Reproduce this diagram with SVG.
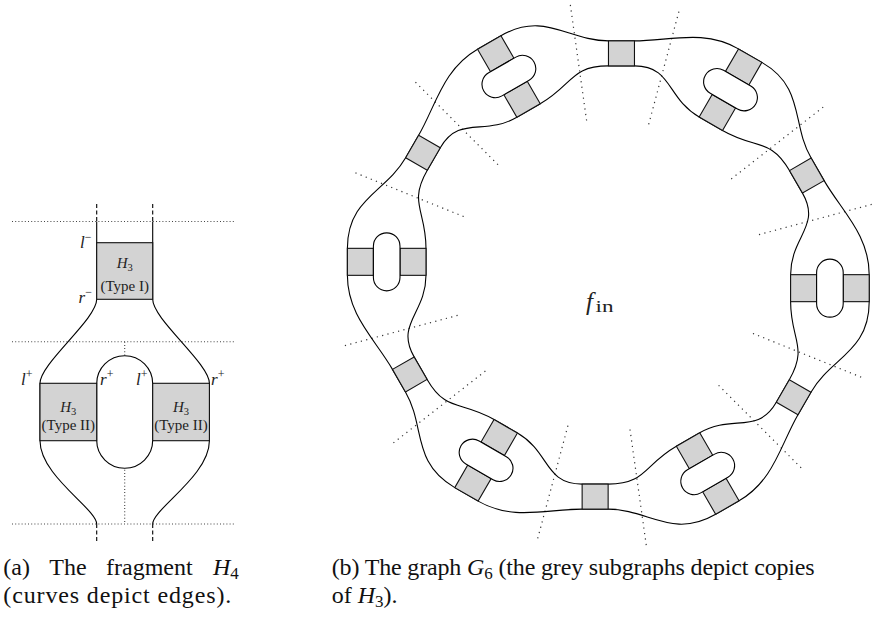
<svg xmlns="http://www.w3.org/2000/svg" width="886" height="617" viewBox="0 0 886 617">
<style>
.edge{fill:none;stroke:#000;stroke-width:1.1}
.box{fill:#d3d3d3;stroke:#111;stroke-width:1.1}
.oval{fill:#fff;stroke:#000;stroke-width:1.1}
.dot{fill:none;stroke:#333;stroke-width:1.2;stroke-dasharray:1.2 4.3}
.dotA{fill:none;stroke:#444;stroke-width:1.1;stroke-dasharray:1 2.2}
.dash{fill:none;stroke:#000;stroke-width:1.1;stroke-dasharray:4 2.5}
text{font-family:"Liberation Serif","DejaVu Serif",serif;fill:#222}
.it{font-style:italic}
.lbl{font-size:15px}
.cap{font-size:24px;fill:#111}
</style>
<rect width="886" height="617" fill="#fff"/>

<!-- ===== Figure (a): fragment H4 ===== -->
<g id="a-separators">
<line class="dotA" x1="12" y1="221.5" x2="234" y2="221.5"/>
<line class="dotA" x1="12" y1="341.7" x2="234" y2="341.7"/>
<line class="dotA" x1="12" y1="524" x2="234" y2="524"/>
<line class="dotA" x1="124.7" y1="341.7" x2="124.7" y2="524"/>
</g>
<g id="a-connectors">
<line class="dash" x1="96.7" y1="204" x2="96.7" y2="221.5"/>
<line class="dash" x1="152.7" y1="204" x2="152.7" y2="221.5"/>
<line class="dash" x1="96.7" y1="524" x2="96.7" y2="543"/>
<line class="dash" x1="152.7" y1="524" x2="152.7" y2="543"/>
<path class="edge" d="M96.7 221.5 V299.3 C96.7 319.3 40 363.3 40 383.3 V440.7 C40 475.7 96.7 509 96.7 524"/>
<path class="edge" d="M152.7 221.5 V299.3 C152.7 319.3 209.4 363.3 209.4 383.3 V440.7 C209.4 475.7 152.7 509 152.7 524"/>
</g>
<g id="a-typeI">
<rect class="box" x="96.7" y="242.7" width="56" height="56.6"/>
<text class="lbl" x="124.7" y="268" text-anchor="middle"><tspan class="it">H</tspan><tspan font-size="10.5" dy="3">3</tspan></text>
<text class="lbl" x="124.7" y="291" text-anchor="middle">(Type I)</text>
</g>
<g id="a-oval">
<rect class="oval" x="96.7" y="355.7" width="56" height="112.6" rx="28"/>
</g>
<g id="a-typeII-left">
<rect class="box" x="40" y="383.3" width="56.7" height="57.4"/>
<text class="lbl" x="68.3" y="412" text-anchor="middle"><tspan class="it">H</tspan><tspan font-size="10.5" dy="3">3</tspan></text>
<text class="lbl" x="68.3" y="429.5" text-anchor="middle">(Type II)</text>
</g>
<g id="a-typeII-right">
<rect class="box" x="152.7" y="383.3" width="56.7" height="57.4"/>
<text class="lbl" x="181" y="412" text-anchor="middle"><tspan class="it">H</tspan><tspan font-size="10.5" dy="3">3</tspan></text>
<text class="lbl" x="181" y="429.5" text-anchor="middle">(Type II)</text>
</g>
<g id="a-ports" font-size="17">
<text x="80" y="248"><tspan class="it">l</tspan><tspan font-size="12" dy="-7">−</tspan></text>
<text x="78.5" y="303"><tspan class="it">r</tspan><tspan font-size="12" dy="-7">−</tspan></text>
<text x="21" y="385"><tspan class="it">l</tspan><tspan font-size="12" dy="-7">+</tspan></text>
<text x="100" y="385"><tspan class="it">r</tspan><tspan font-size="12" dy="-7">+</tspan></text>
<text x="136" y="385"><tspan class="it">l</tspan><tspan font-size="12" dy="-7">+</tspan></text>
<text x="211" y="385"><tspan class="it">r</tspan><tspan font-size="12" dy="-7">+</tspan></text>
</g>

<!-- ===== Figure (b): graph G6 ===== -->
<g id="b-separators">
<line class="dot" x1="764.3" y1="275" x2="882.3" y2="275" transform="rotate(22 608.3 275)"/>
<line class="dot" x1="764.3" y1="275" x2="882.3" y2="275" transform="rotate(45 608.3 275)"/>
<line class="dot" x1="764.3" y1="275" x2="882.3" y2="275" transform="rotate(82 608.3 275)"/>
<line class="dot" x1="764.3" y1="275" x2="882.3" y2="275" transform="rotate(105 608.3 275)"/>
<line class="dot" x1="764.3" y1="275" x2="882.3" y2="275" transform="rotate(142 608.3 275)"/>
<line class="dot" x1="764.3" y1="275" x2="882.3" y2="275" transform="rotate(165 608.3 275)"/>
<line class="dot" x1="764.3" y1="275" x2="882.3" y2="275" transform="rotate(202 608.3 275)"/>
<line class="dot" x1="764.3" y1="275" x2="882.3" y2="275" transform="rotate(225 608.3 275)"/>
<line class="dot" x1="764.3" y1="275" x2="882.3" y2="275" transform="rotate(262 608.3 275)"/>
<line class="dot" x1="764.3" y1="275" x2="882.3" y2="275" transform="rotate(285 608.3 275)"/>
<line class="dot" x1="764.3" y1="275" x2="882.3" y2="275" transform="rotate(322 608.3 275)"/>
<line class="dot" x1="764.3" y1="275" x2="882.3" y2="275" transform="rotate(345 608.3 275)"/>
</g>

<g id="b-connectors">
<g id="outer-ring">
<path class="edge" transform="rotate(0 608.3 275)" d="M869.209 274.666 L869.209 301.666 C869.209 351.666 830.961 357.558 810.961 392.199 L797.961 414.715 C780.461 445.026 773.685 480.787 739.044 500.787"/>
<path class="edge" transform="rotate(60 608.3 275)" d="M869.209 274.666 L869.209 301.666 C869.209 351.666 830.961 357.558 810.961 392.199 L797.961 414.715 C780.461 445.026 773.685 480.787 739.044 500.787"/>
<path class="edge" transform="rotate(120 608.3 275)" d="M869.209 274.666 L869.209 301.666 C869.209 351.666 830.961 357.558 810.961 392.199 L797.961 414.715 C780.461 445.026 773.685 480.787 739.044 500.787"/>
<path class="edge" transform="rotate(180 608.3 275)" d="M869.209 274.666 L869.209 301.666 C869.209 351.666 830.961 357.558 810.961 392.199 L797.961 414.715 C780.461 445.026 773.685 480.787 739.044 500.787"/>
<path class="edge" transform="rotate(240 608.3 275)" d="M869.209 274.666 L869.209 301.666 C869.209 351.666 830.961 357.558 810.961 392.199 L797.961 414.715 C780.461 445.026 773.685 480.787 739.044 500.787"/>
<path class="edge" transform="rotate(300 608.3 275)" d="M869.209 274.666 L869.209 301.666 C869.209 351.666 830.961 357.558 810.961 392.199 L797.961 414.715 C780.461 445.026 773.685 480.787 739.044 500.787"/>
</g>
<g id="inner-ring">
<path class="edge" transform="rotate(0 608.3 275)" d="M790.609 274.666 L790.609 301.666 C790.609 339.666 808.311 346.790 789.311 379.699 L776.311 402.215 C757.311 435.124 732.653 413.717 699.744 432.717"/>
<path class="edge" transform="rotate(60 608.3 275)" d="M790.609 274.666 L790.609 301.666 C790.609 339.666 808.311 346.790 789.311 379.699 L776.311 402.215 C757.311 435.124 732.653 413.717 699.744 432.717"/>
<path class="edge" transform="rotate(120 608.3 275)" d="M790.609 274.666 L790.609 301.666 C790.609 339.666 808.311 346.790 789.311 379.699 L776.311 402.215 C757.311 435.124 732.653 413.717 699.744 432.717"/>
<path class="edge" transform="rotate(180 608.3 275)" d="M790.609 274.666 L790.609 301.666 C790.609 339.666 808.311 346.790 789.311 379.699 L776.311 402.215 C757.311 435.124 732.653 413.717 699.744 432.717"/>
<path class="edge" transform="rotate(240 608.3 275)" d="M790.609 274.666 L790.609 301.666 C790.609 339.666 808.311 346.790 789.311 379.699 L776.311 402.215 C757.311 435.124 732.653 413.717 699.744 432.717"/>
<path class="edge" transform="rotate(300 608.3 275)" d="M790.609 274.666 L790.609 301.666 C790.609 339.666 808.311 346.790 789.311 379.699 L776.311 402.215 C757.311 435.124 732.653 413.717 699.744 432.717"/>
</g>
</g>

<g id="b-nodes">
<g id="double-0" transform="rotate(0 608.3 275) translate(829.909 288.166)"><rect class="box" x="13.3" y="-13.5" width="26" height="27"/><rect class="box" x="-39.3" y="-13.5" width="26" height="27"/><rect class="oval" x="-13.3" y="-29" width="26.6" height="58" rx="13.3"/></g>
<g id="single-0" transform="rotate(0 608.3 275) translate(793.636 397.207) rotate(30)"><rect class="box" x="-12.5" y="-13" width="25" height="26"/></g>
<g id="double-1" transform="rotate(60 608.3 275) translate(829.909 288.166)"><rect class="box" x="13.3" y="-13.5" width="26" height="27"/><rect class="box" x="-39.3" y="-13.5" width="26" height="27"/><rect class="oval" x="-13.3" y="-29" width="26.6" height="58" rx="13.3"/></g>
<g id="single-1" transform="rotate(60 608.3 275) translate(793.636 397.207) rotate(30)"><rect class="box" x="-12.5" y="-13" width="25" height="26"/></g>
<g id="double-2" transform="rotate(120 608.3 275) translate(829.909 288.166)"><rect class="box" x="13.3" y="-13.5" width="26" height="27"/><rect class="box" x="-39.3" y="-13.5" width="26" height="27"/><rect class="oval" x="-13.3" y="-29" width="26.6" height="58" rx="13.3"/></g>
<g id="single-2" transform="rotate(120 608.3 275) translate(793.636 397.207) rotate(30)"><rect class="box" x="-12.5" y="-13" width="25" height="26"/></g>
<g id="double-3" transform="rotate(180 608.3 275) translate(829.909 288.166)"><rect class="box" x="13.3" y="-13.5" width="26" height="27"/><rect class="box" x="-39.3" y="-13.5" width="26" height="27"/><rect class="oval" x="-13.3" y="-29" width="26.6" height="58" rx="13.3"/></g>
<g id="single-3" transform="rotate(180 608.3 275) translate(793.636 397.207) rotate(30)"><rect class="box" x="-12.5" y="-13" width="25" height="26"/></g>
<g id="double-4" transform="rotate(240 608.3 275) translate(829.909 288.166)"><rect class="box" x="13.3" y="-13.5" width="26" height="27"/><rect class="box" x="-39.3" y="-13.5" width="26" height="27"/><rect class="oval" x="-13.3" y="-29" width="26.6" height="58" rx="13.3"/></g>
<g id="single-4" transform="rotate(240 608.3 275) translate(793.636 397.207) rotate(30)"><rect class="box" x="-12.5" y="-13" width="25" height="26"/></g>
<g id="double-5" transform="rotate(300 608.3 275) translate(829.909 288.166)"><rect class="box" x="13.3" y="-13.5" width="26" height="27"/><rect class="box" x="-39.3" y="-13.5" width="26" height="27"/><rect class="oval" x="-13.3" y="-29" width="26.6" height="58" rx="13.3"/></g>
<g id="single-5" transform="rotate(300 608.3 275) translate(793.636 397.207) rotate(30)"><rect class="box" x="-12.5" y="-13" width="25" height="26"/></g>
</g>

<g id="f-in">
<text x="586" y="309.5" font-size="25" font-style="italic">f</text>
<text x="595.5" y="312" font-size="17" textLength="18" lengthAdjust="spacingAndGlyphs">in</text>
</g>

<!-- ===== Captions ===== -->
<g id="caption-a">
<text class="cap" x="3.3" y="575">(a)</text>
<text class="cap" x="49.3" y="575">The</text>
<text class="cap" x="106" y="575">fragment</text>
<text class="cap" x="213" y="575"><tspan class="it">H</tspan><tspan font-size="17" dy="4">4</tspan></text>
<text class="cap" x="3.3" y="603" textLength="228" lengthAdjust="spacing">(curves depict edges).</text>
</g>
<g id="caption-b">
<text class="cap" x="331.7" y="575" textLength="483" lengthAdjust="spacing">(b) The graph <tspan class="it">G</tspan><tspan font-size="17" dy="4">6</tspan><tspan dy="-4"> (the grey subgraphs depict copies</tspan></text>
<text class="cap" x="331.7" y="603">of <tspan class="it">H</tspan><tspan font-size="17" dy="4">3</tspan><tspan dy="-4">).</tspan></text>
</g>
</svg>
